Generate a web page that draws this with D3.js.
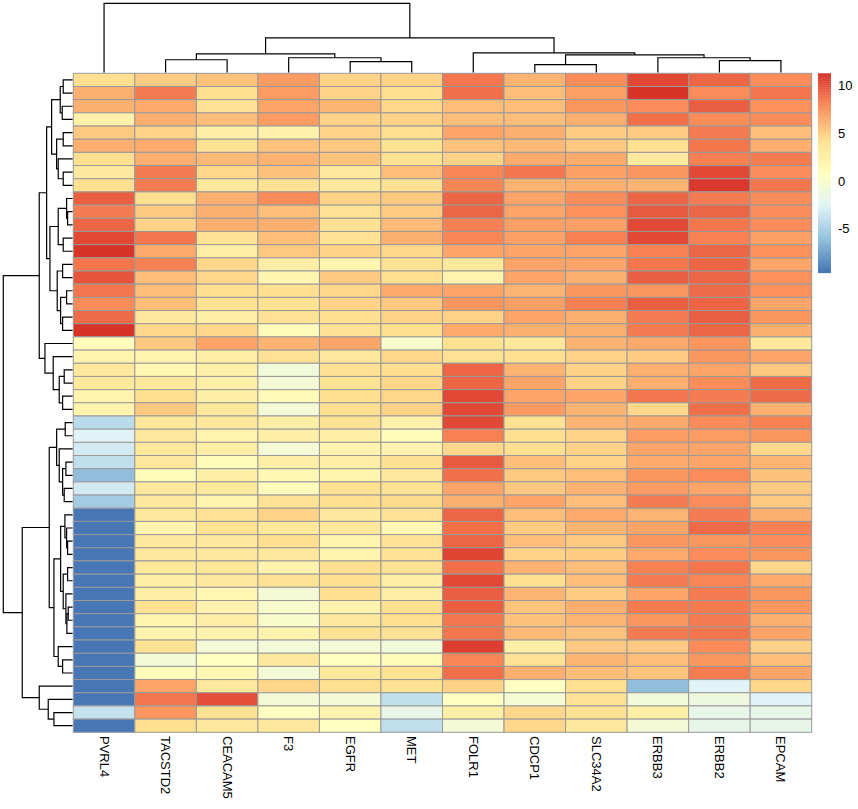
<!DOCTYPE html>
<html><head><meta charset="utf-8">
<script src="https://cdn.jsdelivr.net/npm/d3@7"></script>
<style>body{margin:0;background:#fff}svg{display:block}</style>
</head><body>
<svg id="c" width="858" height="809"></svg>
<script>
// ---- data ----
const genes = ["PVRL4","TACSTD2","CEACAM5","F3","EGFR","MET","FOLR1","CDCP1","SLC34A2","ERBB3","ERBB2","EPCAM"];
// rows in displayed (clustered) order, columns in gene order above
const values = [
  [4.3, 5.2, 5.5, 7.3, 4.9, 4.9, 8.6, 6.2, 7.8, 10.3, 9.3, 7.9],
  [6.3, 8.4, 4.3, 7.2, 5.0, 4.4, 9.0, 5.7, 7.0, 11.3, 7.9, 8.6],
  [6.3, 6.5, 4.0, 6.9, 6.1, 4.7, 5.8, 5.8, 7.4, 7.9, 9.6, 7.6],
  [2.5, 6.4, 5.8, 7.3, 4.9, 4.9, 5.8, 5.8, 6.4, 8.8, 7.9, 7.9],
  [5.4, 4.9, 2.7, 2.5, 4.9, 4.4, 6.9, 6.4, 5.2, 5.1, 8.5, 5.8],
  [6.4, 6.5, 4.0, 5.5, 5.4, 4.0, 5.6, 6.0, 5.4, 4.4, 8.6, 6.3],
  [4.2, 6.4, 6.0, 6.1, 5.5, 4.0, 4.9, 6.7, 6.7, 3.3, 8.3, 8.5],
  [3.5, 8.5, 4.7, 5.5, 3.5, 5.8, 8.0, 8.6, 7.0, 7.4, 10.3, 7.9],
  [4.4, 8.5, 3.4, 4.1, 3.4, 4.0, 8.0, 6.2, 6.4, 6.2, 11.0, 8.6],
  [9.6, 4.4, 6.4, 7.9, 4.9, 5.4, 9.3, 6.9, 7.8, 9.3, 8.5, 7.8],
  [8.5, 5.4, 6.4, 5.8, 4.0, 5.2, 9.3, 6.8, 7.7, 9.8, 9.3, 7.9],
  [9.3, 4.9, 6.4, 6.4, 4.0, 6.0, 8.3, 7.0, 7.0, 10.4, 8.6, 7.8],
  [10.4, 8.6, 4.0, 5.8, 4.0, 6.4, 8.0, 7.0, 8.2, 10.3, 8.2, 7.0],
  [11.3, 6.7, 2.8, 5.4, 4.9, 4.7, 6.9, 6.9, 6.9, 8.2, 9.3, 7.6],
  [8.6, 8.2, 4.7, 2.8, 2.0, 4.0, 3.5, 6.8, 6.9, 8.6, 9.3, 6.9],
  [10.0, 5.8, 4.7, 2.0, 5.4, 4.2, 2.2, 6.9, 6.3, 9.6, 9.3, 7.6],
  [8.7, 5.8, 4.2, 4.2, 4.7, 6.5, 6.9, 6.2, 7.5, 7.5, 9.1, 7.6],
  [7.8, 5.8, 4.0, 4.0, 4.9, 5.4, 7.4, 7.0, 8.2, 9.6, 9.3, 6.9],
  [9.2, 3.5, 2.8, 4.0, 4.4, 4.9, 4.9, 6.9, 6.4, 8.5, 9.6, 7.4],
  [11.2, 4.7, 4.7, 1.1, 4.0, 4.4, 6.7, 6.3, 6.3, 8.5, 9.3, 6.4],
  [1.1, 5.4, 6.9, 6.2, 6.9, 0.1, 4.0, 3.4, 6.2, 6.7, 7.4, 3.5],
  [2.3, 2.3, 2.6, 4.0, 3.5, 4.7, 4.0, 4.4, 5.0, 5.2, 7.4, 6.9],
  [3.4, 1.8, 2.6, -0.8, 4.0, 4.2, 9.3, 6.2, 5.0, 6.4, 6.9, 5.4],
  [3.4, 3.4, 2.7, -0.5, 4.0, 4.7, 9.3, 6.9, 4.9, 6.3, 7.8, 9.1],
  [2.3, 4.4, 2.6, 1.3, 4.4, 4.7, 10.3, 6.8, 6.8, 8.6, 8.5, 9.1],
  [2.3, 5.4, 3.5, -0.5, 4.4, 5.0, 10.3, 7.2, 6.2, 4.7, 9.0, 6.4],
  [-4.3, 3.5, 3.5, 2.7, 4.0, 2.5, 10.3, 4.0, 6.2, 6.7, 7.8, 8.2],
  [-2.6, 3.5, 2.3, 2.6, 2.6, 1.2, 8.2, 4.4, 5.0, 7.3, 7.2, 7.4],
  [-3.2, 3.5, 2.7, -0.5, 2.3, 2.3, 4.7, 4.2, 4.9, 6.8, 6.9, 4.7],
  [-4.0, 3.5, 1.2, 2.7, 2.7, 4.0, 9.8, 5.8, 4.9, 6.7, 6.9, 6.2],
  [-6.1, 1.2, 2.6, 1.5, 2.3, 3.5, 9.0, 5.4, 5.8, 7.4, 7.8, 5.6],
  [-3.3, 3.5, 3.5, 1.2, 4.2, 4.0, 6.9, 5.4, 6.2, 7.3, 6.9, 5.4],
  [-5.3, 3.5, 2.1, 4.0, 4.2, 4.5, 6.4, 6.8, 5.8, 8.5, 7.9, 5.4],
  [-9.6, 3.5, 4.0, 4.9, 3.5, 4.0, 9.3, 5.8, 6.7, 6.2, 8.5, 6.3],
  [-9.6, 2.3, 4.0, 3.5, 3.5, 1.5, 9.0, 5.2, 6.2, 6.9, 9.1, 8.2],
  [-9.6, 3.5, 3.5, 4.4, 2.3, 4.0, 9.3, 5.8, 5.4, 7.4, 7.4, 7.8],
  [-9.6, 3.5, 3.5, 3.5, 2.3, 4.0, 10.6, 4.9, 5.2, 6.5, 7.8, 7.4],
  [-9.6, 3.5, 3.5, 2.3, 4.4, 4.0, 9.0, 6.2, 5.8, 8.2, 8.6, 4.7],
  [-9.6, 2.7, 3.5, 4.0, 4.4, 2.7, 10.3, 4.4, 5.8, 8.5, 8.0, 6.7],
  [-9.6, 2.7, 1.8, -0.5, 4.4, 2.6, 9.6, 6.2, 5.2, 6.9, 8.5, 7.4],
  [-9.6, 4.0, 2.3, 0.1, 2.3, 4.4, 9.6, 5.6, 6.4, 8.5, 8.5, 7.4],
  [-9.6, 2.3, 2.6, 0.1, 3.5, 4.4, 8.7, 5.6, 6.2, 7.4, 8.5, 6.3],
  [-9.6, 2.3, 2.3, 2.3, 4.0, 4.0, 8.7, 6.0, 5.6, 8.5, 8.7, 6.9],
  [-9.6, 4.0, -0.5, -0.5, -0.5, -0.8, 10.8, 2.7, 5.4, 5.4, 7.8, 4.9],
  [-9.6, -0.5, 0.8, 3.5, 0.8, 1.2, 8.0, 4.0, 6.2, 5.8, 7.4, 5.8],
  [-9.6, 1.2, 1.8, -0.5, 3.5, 4.0, 8.8, 6.3, 5.8, 5.6, 8.5, 6.9],
  [-9.6, 6.8, 3.5, 4.7, 4.4, 4.0, 5.0, 0.8, 4.4, -6.1, -2.6, 4.7],
  [-9.6, 8.7, 10.1, -0.5, -0.5, -4.0, 0.8, -0.2, 4.0, -0.8, -1.2, -2.6],
  [-3.9, 7.4, 4.0, 0.8, 2.3, -1.7, 2.7, 4.7, 4.0, 2.6, -1.7, -1.7],
  [-9.6, 4.2, 3.5, 3.5, 0.8, -4.0, -0.5, 4.7, 3.5, -0.5, -1.7, -1.7]
];
const palette = ["#4575B4","#91BFDB","#E0F3F8","#FFFFBF","#FEE090","#FC8D59","#D73027"];
const legendTicks = [10, 5, 0, -5];
// dendrograms: [left, right, height]; leaves are row / column indices
const rowTree = [
  [
    [
      [[[0,1,9.4],[2,3,10.4],12.4], [[4,5,9.4],[6,[7,8,9.4],14.4],16], 21],
      [[[9,[10,11,5],6],[12,13,9.4],14.4], [[14,15,10],[[16,17,6],[18,19,10],12],15.4], 22.7],
      26
    ],
    [20, [21, [[22,23,8.4],[24,25,10],13.4], 19.4], 27.7],
    33.4
  ],
  [
    [
      [[26,27,7.4], [28, [[29,30,6.7],[31,32,8.4],10], 13.4], 16],
      [
        [[33, [34, [35,36,5], 6], 7.7], [[37,38,5], [39, [[40,41,4.4],42,5.7], 6.7], 9.4], 12],
        [43, [44,45,10], 14.4],
        18.7
      ],
      23.4
    ],
    [46, [47, [48,49,18.7], 24.4], 33.4],
    50.4
  ],
  69.4
];
const colTree = [0, [[[1,2,13],[3,[4,5,11],15],19], [6, [[7,8,8],[9,[10,11,12],15],18], 20], 35], 70];

// ---- drawing ----
(function () {
const svg = d3.select("#c");
const hmLeft = 73.3, hmRight = 811.7, hmTop = 73.3, hmBottom = 732.3;
const x = d3.scaleBand().domain(d3.range(genes.length)).range([hmLeft, hmRight]);
const y = d3.scaleBand().domain(d3.range(values.length)).range([hmTop, hmBottom]);
const [vmin, vmax] = d3.extent(values.flat());
const color = d3.scaleLinear()
  .domain(palette.map((_, i) => vmin + i * (vmax - vmin) / (palette.length - 1)))
  .range(palette).interpolate(d3.interpolateRgb);
// pheatmap uses 100 discrete colours
const nBins = 100;
const binColor = v => {
  let b = Math.floor((v - vmin) / (vmax - vmin) * nBins);
  b = Math.max(0, Math.min(nBins - 1, b));
  return color(vmin + (b + 0.5) * (vmax - vmin) / nBins);
};

const cells = svg.append("g");
values.forEach((row, i) => {
  row.forEach((v, j) => {
    cells.append("rect")
      .attr("x", x(j)).attr("y", y(i))
      .attr("width", x.bandwidth()).attr("height", y.bandwidth())
      .attr("fill", binColor(v))
      .attr("stroke", "#999999").attr("stroke-width", 1);
  });
});

// dendrograms
const dend = svg.append("g").attr("fill", "none").attr("stroke", "#000").attr("stroke-width", 1.2);
const colH = d3.scaleLinear().domain([0, colTree[2]]).range([72.6, 3.3]);
const rowH = d3.scaleLinear().domain([0, rowTree[2]]).range([72.6, 3.3]);

function drawCol(node) {
  if (typeof node === "number") return { p: x(node) + x.bandwidth() / 2, h: 0 };
  const a = drawCol(node[0]), b = drawCol(node[1]), h = node[2];
  dend.append("path").attr("d",
    `M${a.p},${colH(a.h)}V${colH(h)}H${b.p}V${colH(b.h)}`);
  return { p: (a.p + b.p) / 2, h };
}
function drawRow(node) {
  if (typeof node === "number") return { p: y(node) + y.bandwidth() / 2, h: 0 };
  const a = drawRow(node[0]), b = drawRow(node[1]), h = node[2];
  dend.append("path").attr("d",
    `M${rowH(a.h)},${a.p}H${rowH(h)}V${b.p}H${rowH(b.h)}`);
  return { p: (a.p + b.p) / 2, h };
}
drawCol(colTree);
drawRow(rowTree);

// column labels
svg.append("g").selectAll("text").data(genes).join("text")
  .attr("transform", (d, j) => `translate(${x(j) + x.bandwidth() / 2},736) rotate(90)`)
  .attr("dominant-baseline", "central")
  .attr("font-family", "Liberation Sans, Arial, sans-serif")
  .attr("font-size", 13)
  .text(d => d);

// legend
const lx = 818, lw = 13;
const ly = d3.scaleLinear().domain([vmin, vmax]).range([272.7, 73.3]);
const lg = svg.append("g");
d3.range(nBins).forEach(b => {
  const v0 = vmin + b * (vmax - vmin) / nBins, v1 = vmin + (b + 1) * (vmax - vmin) / nBins;
  lg.append("rect").attr("x", lx).attr("width", lw)
    .attr("y", ly(v1)).attr("height", ly(v0) - ly(v1) + 0.4)
    .attr("fill", binColor((v0 + v1) / 2));
});
lg.selectAll("text").data(legendTicks).join("text")
  .attr("x", lx + lw + 7).attr("y", d => ly(d))
  .attr("dominant-baseline", "central")
  .attr("font-family", "Liberation Sans, Arial, sans-serif")
  .attr("font-size", 13)
  .text(d => d);
})();
</script>
</body></html>
